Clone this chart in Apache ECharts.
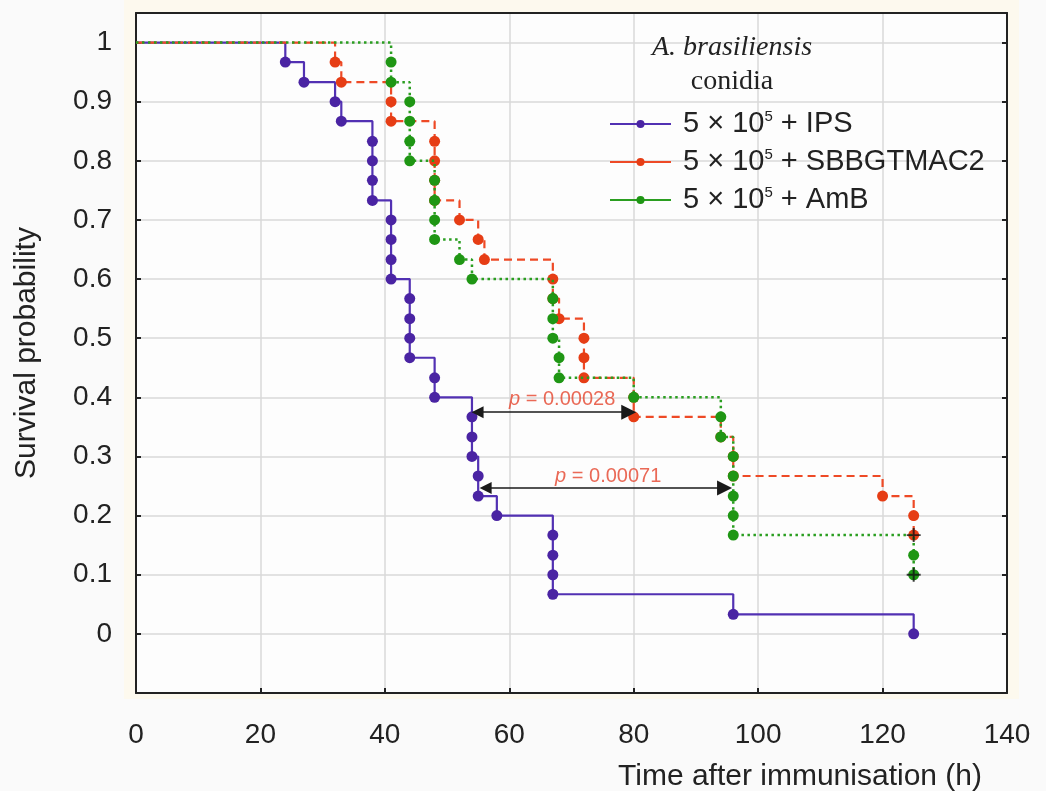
<!DOCTYPE html>
<html>
<head>
<meta charset="utf-8">
<script src="https://cdn.jsdelivr.net/npm/echarts@6/dist/echarts.min.js"></script>
<style>html,body{margin:0;background:#fafafa;}</style>
</head>
<body>
<div id="main" style="width:1046px;height:791px;"></div>
<script>
// Kaplan-Meier curves (time in h, survival probability)
var groups = ['IPS', 'SBBGTMAC2', 'AmB'];

var ipsTime = [0, 24, 27, 32, 33, 38, 38, 38, 38, 41, 41, 41, 41, 44, 44, 44, 44, 48, 48, 54, 54, 54, 55, 55, 58, 67, 67, 67, 67, 96, 125];
var ipsSurv = [1, 0.967, 0.933, 0.9, 0.867, 0.833, 0.8, 0.767, 0.733, 0.7, 0.667, 0.633, 0.6, 0.567, 0.533, 0.5, 0.467, 0.433, 0.4, 0.367, 0.333, 0.3, 0.267, 0.233, 0.2, 0.167, 0.133, 0.1, 0.067, 0.033, 0];

var sbbTime = [0, 32, 33, 41, 41, 48, 48, 48, 48, 52, 55, 56, 67, 67, 68, 72, 72, 72, 80, 80, 94, 96, 96, 120, 125, 125];
var sbbSurv = [1, 0.967, 0.933, 0.9, 0.867, 0.833, 0.8, 0.767, 0.733, 0.7, 0.667, 0.633, 0.6, 0.567, 0.533, 0.5, 0.467, 0.433, 0.4, 0.367, 0.333, 0.3, 0.267, 0.233, 0.2, 0.167];

var ambTime = [0, 41, 41, 44, 44, 44, 44, 48, 48, 48, 48, 52, 54, 67, 67, 67, 68, 68, 80, 94, 94, 96, 96, 96, 96, 96, 125, 125];
var ambSurv = [1, 0.967, 0.933, 0.9, 0.867, 0.833, 0.8, 0.767, 0.733, 0.7, 0.667, 0.633, 0.6, 0.567, 0.533, 0.5, 0.467, 0.433, 0.4, 0.367, 0.333, 0.3, 0.267, 0.233, 0.2, 0.167, 0.133, 0.1];

// censored observations (+)
var censorTime = [125, 125];
var censorSurv = [0.167, 0.1];

// p-value annotations with double arrows
var pTexts = ['0.00028', '0.00071'];
var pX = [68.5, 75.9];
var pY = [0.397, 0.267];
var arrowFrom = [54.9, 56.2];
var arrowTo = [79.2, 94.6];
var arrowY = [0.375, 0.2465];

var xTickLabels = ['0', '20', '40', '60', '80', '100', '120', '140'];
var yTickLabels = ['0', '0.1', '0.2', '0.3', '0.4', '0.5', '0.6', '0.7', '0.8', '0.9', '1'];

var FONT = 'Liberation Sans, Arial, sans-serif';
var SERIF = 'Liberation Serif, Times New Roman, serif';

function kmData(t, s) {
    return t.map(function (x, i) {
        if (i === 0) return {value: [x, s[i]], symbol: 'none'};
        return [x, s[i]];
    });
}

function yLabel(v) {
    for (var i = 0; i < yTickLabels.length; i++) {
        if (Math.abs(v - parseFloat(yTickLabels[i])) < 1e-6) return yTickLabels[i];
    }
    return '';
}
function xLabel(v) {
    var i = xTickLabels.indexOf(String(Math.round(v)));
    return i >= 0 ? xTickLabels[i] : '';
}

var myChart = echarts.init(document.getElementById('main'));

var option = {
    animation: false,
    backgroundColor: '#fafafa',
    graphic: [
        {type: 'rect', z: -10, shape: {x: 124, y: 0, width: 895, height: 699}, style: {fill: '#fdf9ee'}},
        {type: 'text', x: 732, y: 48, z: 10,
            style: {text: 'A. brasiliensis', align: 'center', verticalAlign: 'middle',
                font: 'italic 28px ' + SERIF, fill: '#222'}},
        {type: 'text', x: 732, y: 82, z: 10,
            style: {text: 'conidia', align: 'center', verticalAlign: 'middle',
                font: '28px ' + SERIF, fill: '#222'}}
    ],
    grid: {left: 136, top: 13, right: 39, bottom: 98, outerBoundsMode: 'none', containLabel: false,
        show: true, backgroundColor: '#fdfdfd', borderWidth: 0},
    legend: {
        data: groups,
        orient: 'vertical',
        left: 609,
        top: 109,
        padding: 0,
        itemWidth: 61,
        itemHeight: 10,
        itemGap: 8,
        lineStyle: {type: 'solid', width: 2},
        formatter: function (name) { return '5 × 10{sup|5} + ' + name; },
        textStyle: {
            fontFamily: FONT, fontSize: 29, color: '#222', lineHeight: 30, padding: [0, 0, 0, 7],
            rich: {sup: {fontFamily: FONT, fontSize: 15, color: '#222', verticalAlign: 'top', lineHeight: 15}}
        }
    },
    xAxis: [{
        type: 'value', min: 0, max: 140, interval: 20,
        axisLine: {show: true, onZero: false, lineStyle: {color: '#222', width: 2}},
        axisTick: {show: true, inside: true, length: 5, lineStyle: {color: '#222', width: 2}},
        axisLabel: {margin: 28, fontFamily: FONT, fontSize: 28, color: '#222', formatter: xLabel},
        splitLine: {show: true, lineStyle: {color: '#d9d9d9', width: 1.5}},
        name: 'Time after immunisation (h)',
        nameLocation: 'end',
        nameGap: -25,
        nameTextStyle: {fontFamily: FONT, fontSize: 30, color: '#222', align: 'right', verticalAlign: 'top', padding: [69, 0, 0, 0]}
    }, {
        type: 'value', position: 'top', min: 0, max: 140, interval: 20,
        axisLine: {show: true, onZero: false, lineStyle: {color: '#222', width: 2}},
        axisTick: {show: false}, axisLabel: {show: false}, splitLine: {show: false}
    }],
    yAxis: [{
        type: 'value', min: -0.1, max: 1.05, interval: 0.1,
        axisLine: {show: true, onZero: false, lineStyle: {color: '#222', width: 2}},
        axisTick: {show: true, inside: true, length: 5, lineStyle: {color: '#222', width: 2}},
        axisLabel: {margin: 24, fontFamily: FONT, fontSize: 28, color: '#222', formatter: yLabel},
        splitLine: {show: true, lineStyle: {color: '#d9d9d9', width: 1.5}},
        name: 'Survival probability',
        nameLocation: 'middle',
        nameGap: 94,
        nameTextStyle: {fontFamily: FONT, fontSize: 30, color: '#222'}
    }, {
        type: 'value', position: 'right', min: -0.1, max: 1.05, interval: 0.1,
        axisLine: {show: true, onZero: false, lineStyle: {color: '#222', width: 2}},
        axisTick: {show: true, inside: true, length: 5, lineStyle: {color: '#222', width: 2}},
        axisLabel: {show: false}, splitLine: {show: false}
    }],
    series: [
        {
            name: 'IPS', type: 'line', step: 'end', data: kmData(ipsTime, ipsSurv),
            symbol: 'circle', symbolSize: 11, z: 3,
            lineStyle: {color: '#5231b3', width: 2.2},
            itemStyle: {color: '#4a24a3'}
        },
        {
            name: 'SBBGTMAC2', type: 'line', step: 'end', data: kmData(sbbTime, sbbSurv),
            symbol: 'circle', symbolSize: 11, z: 4,
            lineStyle: {color: '#ee4a26', width: 2.2, type: [8, 5]},
            itemStyle: {color: '#e63d15'}
        },
        {
            name: 'AmB', type: 'line', step: 'end', data: kmData(ambTime, ambSurv),
            symbol: 'circle', symbolSize: 11, z: 5,
            lineStyle: {color: '#2a9e20', width: 2.5, type: [2.5, 3.5]},
            itemStyle: {color: '#1f9614'}
        },
        {
            name: 'censored', type: 'scatter', z: 6,
            data: censorTime.map(function (t, i) { return [t, censorSurv[i]]; }),
            symbol: 'path://M4.3,0H5.7V4.3H10V5.7H5.7V10H4.3V5.7H0V4.3H4.3Z',
            symbolSize: 14,
            itemStyle: {color: '#111'}
        },
        {
            name: 'arrows', type: 'lines', coordinateSystem: 'cartesian2d', z: 7,
            symbol: ['triangle', 'triangle'], symbolSize: [12, 15],
            lineStyle: {color: '#1a1a1a', width: 1.5, opacity: 1},
            data: arrowFrom.map(function (a, i) { return {coords: [[a, arrowY[i]], [arrowTo[i], arrowY[i]]]}; })
        },
        {
            name: 'pvalues', type: 'scatter', z: 8, symbolSize: 0, silent: true,
            data: pX.map(function (x, i) { return {value: [x, pY[i]], name: pTexts[i]}; }),
            label: {
                show: true, position: 'inside',
                formatter: function (p) { return '{i|p} = ' + p.name; },
                fontFamily: FONT, fontSize: 20, color: '#e5432c',
                rich: {i: {fontFamily: FONT, fontSize: 20, fontStyle: 'italic', color: '#e5432c'}}
            }
        }
    ]
};

myChart.setOption(option);
</script>
</body>
</html>
